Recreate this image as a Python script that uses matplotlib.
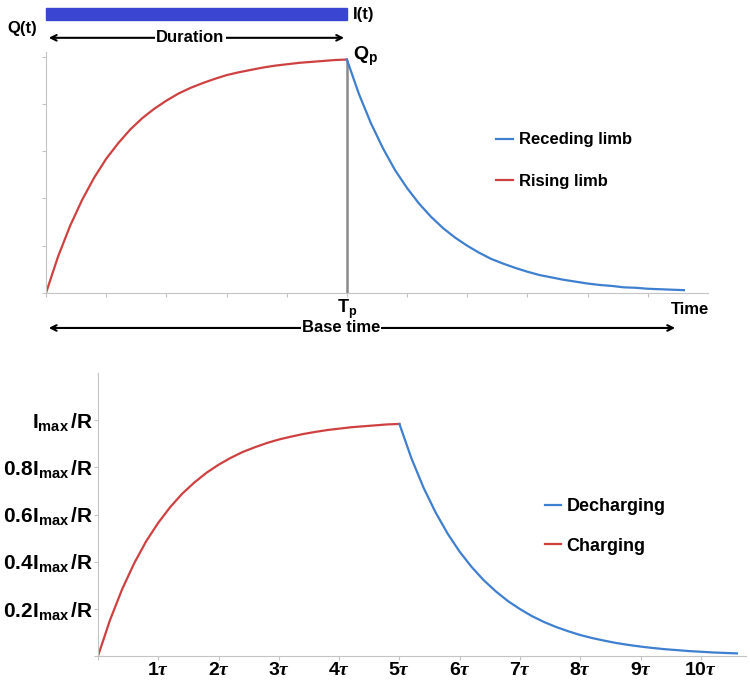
import matplotlib
matplotlib.use("Agg")
import matplotlib.pyplot as plt
from matplotlib.lines import Line2D
from matplotlib.patches import Rectangle

plt.rcParams['font.family'] = ['Liberation Sans', 'DejaVu Sans']
plt.rcParams['font.weight'] = 'bold'
plt.rcParams['mathtext.fontset'] = 'custom'
plt.rcParams['mathtext.bf'] = 'Liberation Sans:bold'
plt.rcParams['mathtext.rm'] = 'Liberation Sans:bold'
plt.rcParams['mathtext.it'] = 'Liberation Serif:italic'

# hydrograph (top), time in tick units
t_rise = [0, 0.2, 0.4, 0.6, 0.8, 1.0, 1.2, 1.4, 1.6, 1.8, 2.0, 2.2, 2.4, 2.6,
          2.8, 3.0, 3.2, 3.4, 3.6, 3.8, 4.0, 4.2, 4.4, 4.6, 4.8, 5.0]
q_rise = [0, 0.77, 1.42, 1.97, 2.44, 2.84, 3.17, 3.46, 3.70, 3.90, 4.07, 4.22,
          4.34, 4.44, 4.53, 4.61, 4.67, 4.72, 4.77, 4.81, 4.84, 4.87, 4.89,
          4.91, 4.93, 4.94]
t_rec = [5.0, 5.2, 5.4, 5.6, 5.8, 6.0, 6.2, 6.4, 6.6, 6.8, 7.0, 7.2, 7.4, 7.6,
         7.8, 8.0, 8.2, 8.4, 8.6, 8.8, 9.0, 9.2, 9.4, 9.6, 9.8, 10.0, 10.2,
         10.4, 10.6]
q_rec = [4.94, 4.21, 3.59, 3.06, 2.60, 2.22, 1.89, 1.61, 1.37, 1.17, 1.00, 0.85,
         0.72, 0.62, 0.53, 0.45, 0.38, 0.33, 0.28, 0.24, 0.20, 0.17, 0.15, 0.12,
         0.11, 0.09, 0.08, 0.07, 0.06]
t_peak = 5.0
q_peak = 4.94

# RC circuit (bottom), time in tau
i_charge = [0, 0.153, 0.283, 0.393, 0.487, 0.565, 0.632, 0.689, 0.736, 0.777,
            0.811, 0.840, 0.865, 0.885, 0.903, 0.918, 0.930, 0.941, 0.950,
            0.958, 0.964, 0.970, 0.974, 0.978, 0.982, 0.984]
i_decharge = [0.984, 0.838, 0.714, 0.609, 0.519, 0.442, 0.377, 0.321, 0.274,
              0.233, 0.199, 0.169, 0.144, 0.123, 0.105, 0.089, 0.076, 0.065,
              0.055, 0.047, 0.040, 0.034, 0.029, 0.025, 0.021, 0.018, 0.015,
              0.013, 0.011]

y_ticks_bot = [0, 0.2, 0.4, 0.6, 0.8, 1.0]
y_labels_bot = ['', r'$\mathbf{0.2I_{max}\,/R}$', r'$\mathbf{0.4I_{max}\,/R}$',
                r'$\mathbf{0.6I_{max}\,/R}$', r'$\mathbf{0.8I_{max}\,/R}$',
                r'$\mathbf{I_{max}\,/R}$']
x_ticks_bot = list(range(11))
x_labels_bot = [''] + [r'$\mathbf{%d}\tau$' % k for k in range(1, 11)]

red = '#cf4141'
blue = '#3f7fcf'
spine = '#c4c4c4'

fig = plt.figure(figsize=(7.5, 6.88), dpi=100)

# ---- top panel ----
ax1 = fig.add_axes([46/750, 1-293/688, 662/750, 241/688])
ax1.vlines(t_peak, 0, q_peak, color='#8a8a8a', lw=1.8, zorder=1)
ax1.plot(t_rise, q_rise, color=red, lw=1.6, zorder=2)
ax1.plot(t_rec, q_rec, color=blue, lw=1.6, zorder=2)
ax1.set_xlim(0, 11)
ax1.set_ylim(0, 5.1)
ax1.set_xticks(range(11))
ax1.set_yticks(range(6))
ax1.set_xticklabels([])
ax1.set_yticklabels([])
ax1.tick_params(length=3, color=spine)
for s in ['top', 'right']:
    ax1.spines[s].set_visible(False)
for s in ['left', 'bottom']:
    ax1.spines[s].set_color(spine)

ax1.add_patch(Rectangle((0, 5.78), 5.0, 0.25, color='#3a45d2', clip_on=False))
ax1.text(5.1, 5.9, 'I(t)', fontsize=12, va='center', ha='left')
ax1.text(-0.65, 5.6, 'Q(t)', fontsize=12, va='center', ha='left')
ax1.annotate('', xy=(0, 5.4), xytext=(5.0, 5.4),
             arrowprops=dict(arrowstyle='<->', color='black', lw=1.5), annotation_clip=False)
ax1.text(2.4, 5.4, 'Duration', fontsize=12, ha='center', va='center',
         bbox=dict(facecolor='white', edgecolor='none', pad=1))
ax1.text(5.1, 5.0, r'$\mathbf{Q_p}$', fontsize=14, ha='left', va='center')
ax1.text(5.0, -0.1, r'$\mathbf{T_p}$', fontsize=13, ha='center', va='top')
ax1.text(10.7, -0.18, 'Time', fontsize=12, ha='center', va='top')
ax1.annotate('', xy=(0, -0.74), xytext=(10.5, -0.74),
             arrowprops=dict(arrowstyle='<->', color='black', lw=1.5), annotation_clip=False)
ax1.text(4.9, -0.74, 'Base time', fontsize=12, ha='center', va='center',
         bbox=dict(facecolor='white', edgecolor='none', pad=0.5))

h1 = [Line2D([], [], color=blue, lw=1.6), Line2D([], [], color=red, lw=1.6)]
ax1.legend(h1, ['Receding limb', 'Rising limb'], loc='upper left',
           bbox_to_anchor=(488/750, 1-124/688), bbox_transform=fig.transFigure,
           frameon=False, fontsize=12, handlelength=1.0, handletextpad=0.35,
           labelspacing=1.6, borderpad=0)

# ---- bottom panel ----
ax2 = fig.add_axes([98/750, 1-656/688, 648/750, 283/688])
ax2.plot(t_rise, i_charge, color=red, lw=1.6)
ax2.plot(t_rec, i_decharge, color=blue, lw=1.6)
ax2.set_xlim(0, 10.75)
ax2.set_ylim(0, 1.2)
ax2.set_xticks(x_ticks_bot)
ax2.set_xticklabels(x_labels_bot, fontsize=14)
ax2.set_yticks(y_ticks_bot)
ax2.set_yticklabels(y_labels_bot, fontsize=15)
ax2.tick_params(axis='x', length=3, color=spine, pad=1)
ax2.tick_params(axis='y', length=3, color=spine, pad=1)
for s in ['top', 'right']:
    ax2.spines[s].set_visible(False)
for s in ['left', 'bottom']:
    ax2.spines[s].set_color(spine)

h2 = [Line2D([], [], color=blue, lw=1.6), Line2D([], [], color=red, lw=1.6)]
ax2.legend(h2, ['Decharging', 'Charging'], loc='upper left',
           bbox_to_anchor=(536/750, 1-489/688), bbox_transform=fig.transFigure,
           frameon=False, fontsize=13, handlelength=0.9, handletextpad=0.3,
           labelspacing=1.25, borderpad=0)

fig.savefig('out.png', dpi=100)
